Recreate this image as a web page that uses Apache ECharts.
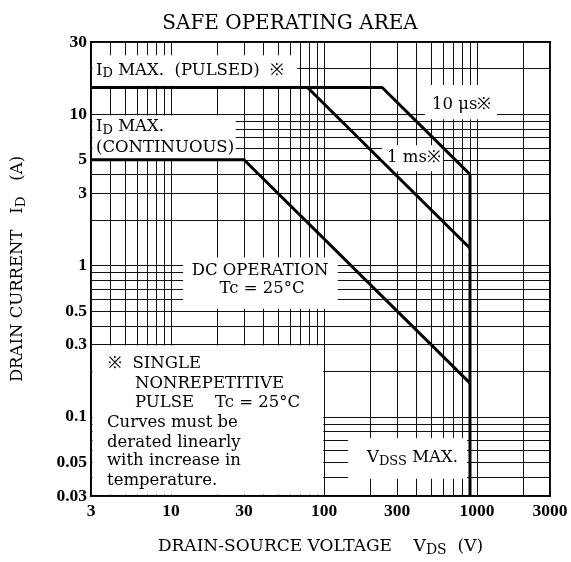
<!DOCTYPE html>
<html><head><meta charset="utf-8">
<script src="https://cdn.jsdelivr.net/npm/echarts@6/dist/echarts.min.js"></script>
<style>html,body{margin:0;padding:0;background:#fff}#c{width:571px;height:562px}</style>
</head><body><div id="c"></div>
<script>
// ---------------- data ----------------
const xTickLabels = [3, 10, 30, 100, 300, 1000, 3000];
const yTickLabels = [30, 10, 5, 3, 1, 0.5, 0.3, 0.1, 0.05, 0.03];
// 10 us pulse limit (incl. VDSS max vertical)
const pulse10usV = [3, 240, 900, 900];
const pulse10usI = [15, 15, 4, 0.03];
// 1 ms pulse limit
const pulse1msV = [78, 900];
const pulse1msI = [15, 1.3];
// DC operation
const dcV = [3, 30, 900];
const dcI = [5, 5, 0.167];

// ---------------- helpers ----------------
function zip(a, b) { return a.map((v, i) => [v, b[i]]); }
function logGrid(lo, hi) {
  const out = [];
  for (let e = -3; e <= 4; e++) for (let k = 1; k < 10; k++) {
    const v = +(k * Math.pow(10, e)).toPrecision(3);
    if (v >= lo * 0.9999 && v <= hi * 1.0001) out.push(v);
  }
  return out;
}
const FONT = 'DejaVu Serif';
const TICKFONT = 'Liberation Serif';

// white label backgrounds in axis units: [v1, v2, i1, i2]
const boxes = [
  [3, 67, 15.4, 24.5],
  [3, 26.5, 5.1, 9.8],
  [457, 1350, 9.25, 15.6],
  [239, 600, 4.2, 6.24],
  [12, 123, 0.519, 1.13],
  [3, 99, 0.03, 0.296],
  [143.6, 861, 0.039, 0.0726]
];

const RICH = {
  m: { fontFamily: FONT, fontSize: 16.5, lineHeight: 20, fill: '#000' },
  s: { fontFamily: FONT, fontSize: 13, lineHeight: 13, verticalAlign: 'bottom', fill: '#000' }
};
// annotations: anchor in axis units + pixel offset
const notes = [
  { at: [3, 15], dx: 5, dy: -17, text: '{m|I}{s|D}{m| MAX.  (PULSED)  ※}' },
  { at: [3, 10], dx: 5, dy: 13, text: '{m|I}{s|D}{m| MAX.}' },
  { at: [3, 10], dx: 5, dy: 34, text: '{m|(CONTINUOUS)}' },
  { at: [1000, 10], dx: -45, dy: -9, text: '{m|10 μs※}' },
  { at: [300, 5], dx: -10, dy: -2.5, text: '{m|1 ms※}' },
  { at: [30, 1], dx: 16, dy: 5, text: '{m|DC OPERATION}', align: 'center' },
  { at: [30, 1], dx: 18, dy: 23, text: '{m|Tc = 25°C}', align: 'center' },
  { at: [3, 0.3], dx: 17, dy: 19, text: '{m|※  SINGLE}' },
  { at: [3, 0.3], dx: 44, dy: 39, text: '{m|NONREPETITIVE}' },
  { at: [3, 0.3], dx: 44, dy: 58, text: '{m|PULSE    Tc = 25°C}' },
  { at: [3, 0.3], dx: 16, dy: 78, text: '{m|Curves must be}' },
  { at: [3, 0.3], dx: 16, dy: 98, text: '{m|derated linearly}' },
  { at: [3, 0.3], dx: 16, dy: 116, text: '{m|with increase in}' },
  { at: [3, 0.3], dx: 16, dy: 136, text: '{m|temperature.}' },
  { at: [900, 0.05], dx: -12, dy: -4.5, text: '{m|V}{s|DSS}{m| MAX.}', align: 'right' }
];

const fmt = v => String(+(+v).toPrecision(3));
const curveStyle = { color: '#000', width: 3 };

const chart = echarts.init(document.getElementById('c'), null, { renderer: 'canvas' });
chart.setOption({
  animation: false,
  backgroundColor: '#fff',
  title: {
    text: 'SAFE OPERATING AREA', left: 285, top: 9, textAlign: 'center',
    textStyle: { fontFamily: FONT, fontSize: 20, fontWeight: 'normal', color: '#000' }
  },
  grid: { left: 91, right: 21, top: 42, bottom: 66, show: true, borderColor: '#000', borderWidth: 2, backgroundColor: 'transparent' },
  xAxis: {
    type: 'log', logBase: 10, min: 3, max: 3000,
    axisLine: { show: false },
    axisTick: { show: false, customValues: logGrid(3, 3000) },
    splitLine: { show: true, lineStyle: { color: '#111', width: 1 } },
    axisLabel: { customValues: xTickLabels, formatter: fmt, fontFamily: TICKFONT, fontWeight: 'bold', fontSize: 17.5, color: '#000', margin: 6 },
    name: '{a|DRAIN-SOURCE VOLTAGE    V}{s|DS}{a|  (V)}',
    nameLocation: 'middle', nameGap: 41,
    nameTextStyle: { rich: {
      a: { fontFamily: FONT, fontSize: 17, lineHeight: 20, color: '#000' },
      s: { fontFamily: FONT, fontSize: 14, lineHeight: 14, verticalAlign: 'bottom', color: '#000' } } }
  },
  yAxis: {
    type: 'log', logBase: 10, min: 0.03, max: 30,
    axisLine: { show: false },
    axisTick: { show: false, customValues: logGrid(0.03, 30) },
    splitLine: { show: true, lineStyle: { color: '#111', width: 1 } },
    axisLabel: { customValues: yTickLabels, formatter: fmt, fontFamily: TICKFONT, fontWeight: 'bold', fontSize: 17.5, color: '#000', margin: 4 },
    name: '{a|DRAIN CURRENT   I}{s|D}{a|   (A)}',
    nameLocation: 'middle', nameGap: 63, nameRotate: 90,
    nameTextStyle: { rich: {
      a: { fontFamily: FONT, fontSize: 16.5, lineHeight: 20, color: '#000' },
      s: { fontFamily: FONT, fontSize: 13.5, lineHeight: 13, verticalAlign: 'bottom', color: '#000' } } }
  },
  series: [
    {
      type: 'custom', z: 3, silent: true, clip: false,
      data: boxes.map(b => [b[0], b[2]]),
      renderItem(params, api) {
        const b = boxes[params.dataIndex];
        const p1 = api.coord([b[0], b[3]]), p2 = api.coord([b[1], b[2]]);
        const cs = params.coordSys;
        const x1 = Math.max(p1[0], cs.x + 1.5), x2 = Math.min(p2[0], cs.x + cs.width - 1.5);
        const y1 = Math.max(p1[1], cs.y + 1.5), y2 = Math.min(p2[1], cs.y + cs.height - 1.5);
        return { type: 'rect', shape: { x: x1, y: y1, width: x2 - x1, height: y2 - y1 }, style: { fill: '#fff' } };
      }
    },
    { name: '10 us', type: 'line', z: 4, data: zip(pulse10usV, pulse10usI), symbol: 'none', lineStyle: curveStyle },
    { name: '1 ms', type: 'line', z: 4, data: zip(pulse1msV, pulse1msI), symbol: 'none', lineStyle: curveStyle },
    { name: 'DC', type: 'line', z: 4, data: zip(dcV, dcI), symbol: 'none', lineStyle: curveStyle },
    {
      type: 'custom', z: 5, silent: true, clip: false,
      data: notes.map(n => n.at),
      renderItem(params, api) {
        const n = notes[params.dataIndex];
        const p = api.coord(n.at);
        return { type: 'text', x: p[0] + n.dx, y: p[1] + n.dy,
          style: { text: n.text, rich: RICH, align: n.align || 'left', verticalAlign: 'middle', fill: '#000', fontFamily: FONT, fontSize: 16.5 } };
      }
    }
  ]
});
</script></body></html>
